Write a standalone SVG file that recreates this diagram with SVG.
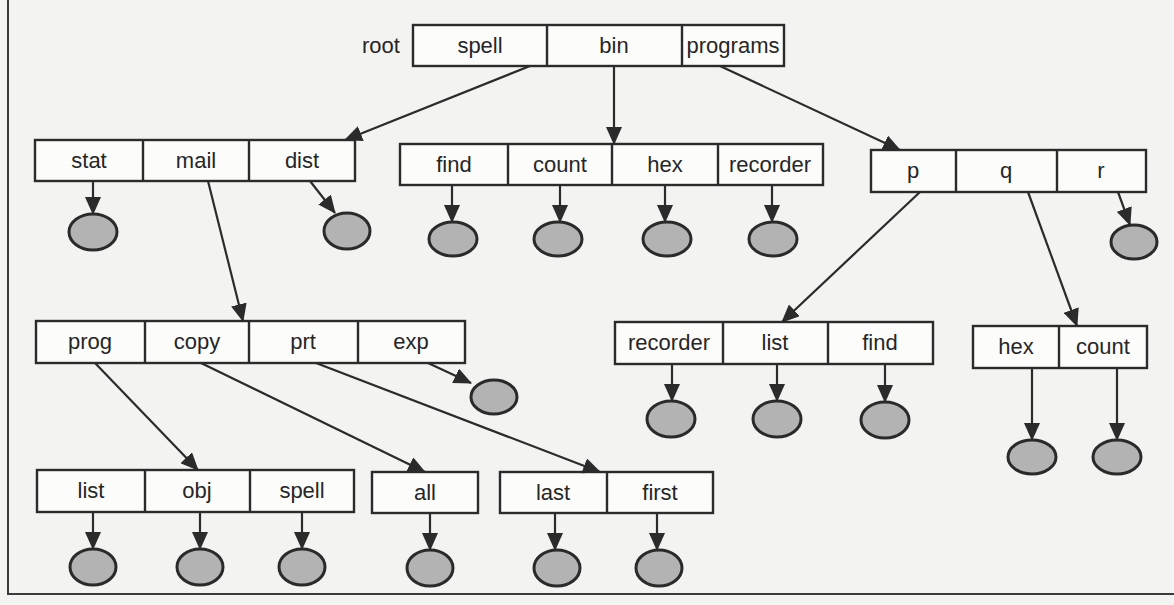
<svg xmlns="http://www.w3.org/2000/svg" width="1174" height="605" viewBox="0 0 1174 605">
<style>
.bg{fill:#f3f3f1}
.box{fill:#fcfcfb;stroke:#2b2b2b;stroke-width:2.4}
.div{stroke:#2b2b2b;stroke-width:2.4}
.lbl{font-family:"Liberation Sans",Arial,sans-serif;font-size:22px;fill:#262626;text-anchor:middle}
.file{fill:#b3b3b3;stroke:#2a2a2a;stroke-width:3}
.con{stroke:#2b2b2b;stroke-width:2.2;fill:none}
.arr{marker-end:url(#ah)}
.frame{stroke:#3a3a3a;stroke-width:2;fill:none}
</style>
<defs>
<marker id="ah" markerUnits="userSpaceOnUse" markerWidth="18" markerHeight="16" refX="17" refY="8" orient="auto" viewBox="0 0 18 16">
<path d="M0,0 L18,8 L0,16 z" fill="#2b2b2b"/>
</marker>
</defs>
<rect class="bg" x="0" y="0" width="1174" height="605"/>
<path class="frame" d="M8,0 V594 H1174"/>

<g id="root">
<text class="lbl" x="381" y="53">root</text>
<rect class="box" x="413" y="25" width="371" height="41"/>
<line class="div" x1="547" y1="25" x2="547" y2="66"/>
<line class="div" x1="682" y1="25" x2="682" y2="66"/>
<text class="lbl" x="480" y="53">spell</text>
<text class="lbl" x="614" y="53">bin</text>
<text class="lbl" x="733" y="53">programs</text>
</g>

<g id="dir-spell">
<rect class="box" x="35" y="140" width="320" height="41"/>
<line class="div" x1="143" y1="140" x2="143" y2="181"/>
<line class="div" x1="249" y1="140" x2="249" y2="181"/>
<text class="lbl" x="89" y="168">stat</text>
<text class="lbl" x="196" y="168">mail</text>
<text class="lbl" x="302" y="168">dist</text>
</g>

<g id="dir-bin">
<rect class="box" x="400" y="144" width="423" height="41"/>
<line class="div" x1="508" y1="144" x2="508" y2="185"/>
<line class="div" x1="612" y1="144" x2="612" y2="185"/>
<line class="div" x1="718" y1="144" x2="718" y2="185"/>
<text class="lbl" x="454" y="172">find</text>
<text class="lbl" x="560" y="172">count</text>
<text class="lbl" x="665" y="172">hex</text>
<text class="lbl" x="770" y="172">recorder</text>
</g>

<g id="dir-programs">
<rect class="box" x="871" y="150" width="275" height="42"/>
<line class="div" x1="956" y1="150" x2="956" y2="192"/>
<line class="div" x1="1057" y1="150" x2="1057" y2="192"/>
<text class="lbl" x="913" y="178">p</text>
<text class="lbl" x="1006" y="178">q</text>
<text class="lbl" x="1101" y="178">r</text>
</g>

<g id="dir-mail">
<rect class="box" x="36" y="321" width="429" height="42"/>
<line class="div" x1="145" y1="321" x2="145" y2="363"/>
<line class="div" x1="249" y1="321" x2="249" y2="363"/>
<line class="div" x1="358" y1="321" x2="358" y2="363"/>
<text class="lbl" x="90" y="349">prog</text>
<text class="lbl" x="197" y="349">copy</text>
<text class="lbl" x="303" y="349">prt</text>
<text class="lbl" x="411" y="349">exp</text>
</g>

<g id="dir-p">
<rect class="box" x="615" y="322" width="318" height="42"/>
<line class="div" x1="723" y1="322" x2="723" y2="364"/>
<line class="div" x1="828" y1="322" x2="828" y2="364"/>
<text class="lbl" x="669" y="350">recorder</text>
<text class="lbl" x="775" y="350">list</text>
<text class="lbl" x="880" y="350">find</text>
</g>

<g id="dir-q">
<rect class="box" x="973" y="326" width="174" height="42"/>
<line class="div" x1="1059" y1="326" x2="1059" y2="368"/>
<text class="lbl" x="1016" y="354">hex</text>
<text class="lbl" x="1103" y="354">count</text>
</g>

<g id="dir-prog">
<rect class="box" x="37" y="470" width="317" height="42"/>
<line class="div" x1="145" y1="470" x2="145" y2="512"/>
<line class="div" x1="250" y1="470" x2="250" y2="512"/>
<text class="lbl" x="91" y="498">list</text>
<text class="lbl" x="197" y="498">obj</text>
<text class="lbl" x="302" y="498">spell</text>
</g>

<g id="dir-copy">
<rect class="box" x="372" y="472" width="106" height="41"/>
<text class="lbl" x="425" y="500">all</text>
</g>

<g id="dir-prt">
<rect class="box" x="500" y="472" width="213" height="41"/>
<line class="div" x1="607" y1="472" x2="607" y2="513"/>
<text class="lbl" x="553" y="500">last</text>
<text class="lbl" x="660" y="500">first</text>
</g>

<g id="files">
<g id="f-stat"><ellipse class="file" cx="93" cy="232" rx="24" ry="18"/></g>
<g id="f-dist"><ellipse class="file" cx="347" cy="231" rx="23" ry="18"/></g>
<g id="f-find"><ellipse class="file" cx="453" cy="239" rx="24" ry="17"/></g>
<g id="f-count"><ellipse class="file" cx="558" cy="239" rx="24" ry="17"/></g>
<g id="f-hex"><ellipse class="file" cx="667" cy="239" rx="24" ry="17"/></g>
<g id="f-recorder"><ellipse class="file" cx="773" cy="239" rx="24" ry="17"/></g>
<g id="f-r"><ellipse class="file" cx="1134" cy="242" rx="23" ry="17"/></g>
<g id="f-exp"><ellipse class="file" cx="494" cy="397" rx="23" ry="17"/></g>
<g id="f-p-recorder"><ellipse class="file" cx="671" cy="419" rx="24" ry="18"/></g>
<g id="f-p-list"><ellipse class="file" cx="777" cy="419" rx="24" ry="18"/></g>
<g id="f-p-find"><ellipse class="file" cx="885" cy="420" rx="24" ry="18"/></g>
<g id="f-q-hex"><ellipse class="file" cx="1032" cy="457" rx="24" ry="17"/></g>
<g id="f-q-count"><ellipse class="file" cx="1117" cy="457" rx="24" ry="17"/></g>
<g id="f-list"><ellipse class="file" cx="93" cy="567" rx="23" ry="18"/></g>
<g id="f-obj"><ellipse class="file" cx="200" cy="567" rx="23" ry="18"/></g>
<g id="f-spell"><ellipse class="file" cx="302" cy="567" rx="23" ry="18"/></g>
<g id="f-all"><ellipse class="file" cx="430" cy="568" rx="23" ry="18"/></g>
<g id="f-last"><ellipse class="file" cx="557" cy="568" rx="23" ry="18"/></g>
<g id="f-first"><ellipse class="file" cx="659" cy="568" rx="23" ry="18"/></g>
</g>

<g id="connectors">
<path class="con arr" d="M530,66 L345,140"/>
<path class="con arr" d="M614,66 L614,144"/>
<path class="con arr" d="M720,66 L900,150"/>
<path class="con arr" d="M93,181 L93,214"/>
<path class="con arr" d="M310,181 L335,213"/>
<path class="con arr" d="M208,181 L243,321"/>
<path class="con arr" d="M452,185 L452,222"/>
<path class="con arr" d="M560,185 L560,222"/>
<path class="con arr" d="M665,185 L665,222"/>
<path class="con arr" d="M772,185 L772,222"/>
<path class="con arr" d="M920,192 L782,322"/>
<path class="con arr" d="M1028,192 L1077,326"/>
<path class="con arr" d="M1118,192 L1130,225"/>
<path class="con arr" d="M95,363 L198,470"/>
<path class="con arr" d="M201,363 L425,472"/>
<path class="con arr" d="M316,363 L600,472"/>
<path class="con arr" d="M428,363 L471,383"/>
<path class="con arr" d="M672,364 L672,401"/>
<path class="con arr" d="M777,364 L777,401"/>
<path class="con arr" d="M885,364 L885,402"/>
<path class="con arr" d="M1032,368 L1032,440"/>
<path class="con arr" d="M1117,368 L1117,440"/>
<path class="con arr" d="M93,512 L93,549"/>
<path class="con arr" d="M200,512 L200,549"/>
<path class="con arr" d="M302,512 L302,549"/>
<path class="con arr" d="M430,513 L430,550"/>
<path class="con arr" d="M555,513 L555,550"/>
<path class="con arr" d="M657,513 L657,550"/>
</g>
</svg>
